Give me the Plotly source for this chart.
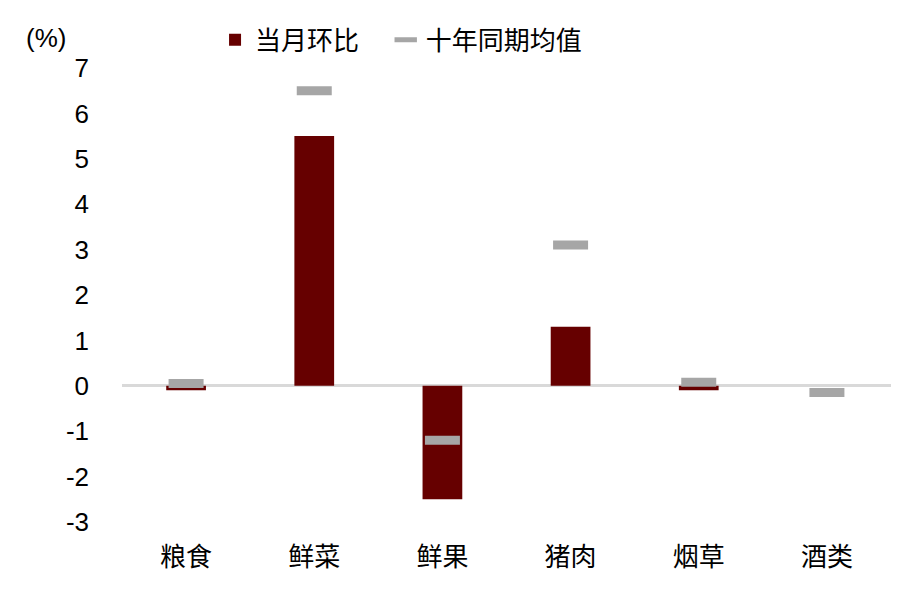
import plotly.graph_objects as go

# 数据
categories = ["粮食", "鲜菜", "鲜果", "猪肉", "烟草", "酒类"]
mom_values = [-0.1, 5.5, -2.5, 1.3, -0.1, 0.0]        # 当月环比
avg_10y = [0.05, 6.5, -1.2, 3.1, 0.08, -0.15]          # 十年同期均值
y_ticks = [-3, -2, -1, 0, 1, 2, 3, 4, 5, 6, 7]
y_tick_text = ["-3", "-2", "-1", "0", "1", "2", "3", "4", "5", "6", "7"]

font_family = "Liberation Sans, Arial, Noto Sans CJK SC"

fig = go.Figure()

fig.add_trace(go.Bar(
    x=categories, y=mom_values,
    name="当月环比\u00a0\u00a0\u00a0",
    marker=dict(color="#660000", line=dict(width=0)),
    width=0.31
))

fig.add_trace(go.Scatter(
    x=categories, y=avg_10y,
    mode="markers",
    name="十年同期均值",
    marker=dict(symbol="line-ew", size=25, color="#a6a6a6",
                line=dict(width=9, color="#a6a6a6"))
))

fig.add_annotation(
    text="(%)", xref="paper", yref="paper",
    x=-0.128, y=1.066, xanchor="left", yanchor="middle",
    showarrow=False, font=dict(size=26, color="black")
)

fig.update_layout(
    width=918, height=604,
    margin=dict(l=114, r=35, t=60, b=90, autoexpand=False),
    paper_bgcolor="white", plot_bgcolor="white",
    font=dict(family=font_family, size=26, color="black"),
    showlegend=True,
    legend=dict(orientation="h", x=0.121, y=1.062, xanchor="left", yanchor="middle",
                font=dict(size=26), itemwidth=30,
                bgcolor="rgba(0,0,0,0)"),
    xaxis=dict(showgrid=False, showline=False, ticks="", ticklabelstandoff=17,
               tickfont=dict(size=26)),
    yaxis=dict(range=[-3, 7], tickvals=y_ticks, ticktext=y_tick_text,
               showgrid=False, showline=False,
               zeroline=True, zerolinecolor="#d9d9d9", zerolinewidth=3,
               ticks="", ticklabelstandoff=32, tickfont=dict(size=26)),
)

fig.write_html("out.html")
